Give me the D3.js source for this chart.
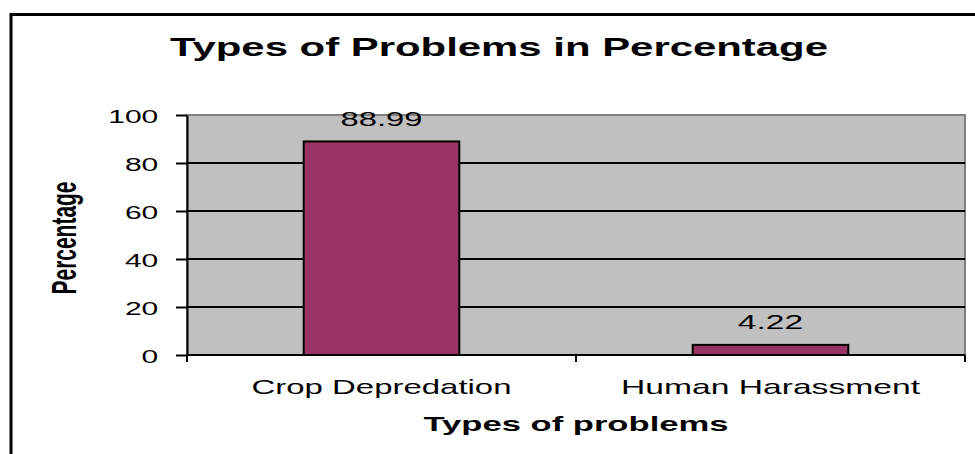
<!DOCTYPE html>
<html>
<head>
<meta charset="utf-8">
<script src="https://cdn.jsdelivr.net/npm/d3@7"></script>
<style>
  html, body { margin: 0; padding: 0; background: #ffffff; }
  svg { display: block; font-family: 'Liberation Sans', Arial, sans-serif; }
</style>
</head>
<body>
<svg id="chart" width="975" height="454"></svg>
<script>
// chart data
const categories = ['Crop Depredation', 'Human Harassment'];
const percentages = [88.99, 4.22];
const valueLabels = ['88.99', '4.22'];
const yTicks = [0, 20, 40, 60, 80, 100];
const chartTitle = 'Types of Problems in Percentage';
const xTitle = 'Types of problems';
const yTitle = 'Percentage';

const width = 975;
const height = 454;
const margin = ({top: 115, right: 10, bottom: 99, left: 187});

// the source image was stretched sideways, so the text is too
const stretch = 1.58;

const barColor = '#993366';
const plotColor = '#c0c0c0';

const svg = d3.select('svg#chart')
  .attr('viewBox', [0, 0, width, height]);

// outer chart border (runs off the right and bottom of the picture)
svg.append('rect')
  .attr('x', 11).attr('y', 14.5)
  .attr('width', width + 20).attr('height', height + 20)
  .attr('fill', 'none')
  .attr('stroke', '#000')
  .attr('stroke-width', 3);

const x = d3.scaleBand()
  .domain(categories)
  .range([margin.left, width - margin.right])
  .padding(0);

const y = d3.scaleLinear()
  .domain([0, 100])
  .range([height - margin.bottom, margin.top]);

// plot area
svg.append('rect')
  .attr('x', x.range()[0])
  .attr('y', y(100))
  .attr('width', x.range()[1] - x.range()[0])
  .attr('height', y(0) - y(100))
  .attr('fill', plotColor)
  .attr('stroke', '#808080')
  .attr('stroke-width', 2);

// gridlines
svg.append('g')
  .selectAll('line')
  .data(yTicks.filter(d => d > 0 && d < 100))
  .join('line')
  .attr('x1', x.range()[0])
  .attr('x2', x.range()[1])
  .attr('y1', d => y(d))
  .attr('y2', d => y(d))
  .attr('stroke', '#000')
  .attr('stroke-width', 2);

// bars (Excel gap width 150%)
const barW = x.bandwidth() / 2.5;
svg.append('g')
  .selectAll('rect')
  .data(percentages)
  .join('rect')
  .attr('x', (d, i) => x(categories[i]) + (x.bandwidth() - barW) / 2)
  .attr('y', d => y(d))
  .attr('width', barW)
  .attr('height', d => y(0) - y(d))
  .attr('fill', barColor)
  .attr('stroke', '#000')
  .attr('stroke-width', 2);

// value labels
svg.append('g')
  .selectAll('text')
  .data(percentages)
  .join('text')
  .attr('x', (d, i) => x(categories[i]) + x.bandwidth() / 2)
  .attr('y', d => y(d) - 15.5)
  .attr('text-anchor', 'middle')
  .attr('font-size', 20)
  .attr('textLength', (d, i) => valueLabels[i].length * 16.4)
  .attr('lengthAdjust', 'spacingAndGlyphs')
  .text((d, i) => valueLabels[i]);

// y axis
const yAxis = gy => {
  gy.attr('transform', `translate(${margin.left},0)`)
    .call(d3.axisLeft(y).tickValues(yTicks).tickSize(11).tickSizeOuter(0))
    .call(g => g.select('.domain').attr('stroke', '#000').attr('stroke-width', 2))
    .call(g => g.selectAll('.tick line').attr('stroke', '#000').attr('stroke-width', 2))
    .call(g => g.selectAll('.tick text')
      .attr('font-size', 19)
      .attr('font-family', null)
      .attr('fill', '#000')
      .attr('x', -28.7 / stretch)
      .attr('dy', '0.4em')
      .attr('transform', `scale(${stretch},1)`));
};
svg.append('g').call(yAxis);

// x axis: line at zero, ticks at the category boundaries
const xAxis = gx => {
  gx.attr('transform', `translate(0,${y(0)})`);
  gx.append('line')
    .attr('x1', x.range()[0]).attr('x2', x.range()[1])
    .attr('stroke', '#000').attr('stroke-width', 2);
  gx.selectAll('line.tick')
    .data(d3.range(categories.length + 1))
    .join('line')
    .attr('class', 'tick')
    .attr('x1', i => x.range()[0] + i * x.step())
    .attr('x2', i => x.range()[0] + i * x.step())
    .attr('y1', 0).attr('y2', 7)
    .attr('stroke', '#000').attr('stroke-width', 2);
  gx.selectAll('text')
    .data(categories)
    .join('text')
    .attr('x', d => x(d) + x.bandwidth() / 2)
    .attr('y', 38.5)
    .attr('text-anchor', 'middle')
    .attr('font-size', 21)
    .attr('textLength', (d, i) => [260, 299][i])
    .attr('lengthAdjust', 'spacingAndGlyphs')
    .text(d => d);
};
svg.append('g').call(xAxis);

// titles
svg.append('text')
  .attr('x', 499)
  .attr('y', 56)
  .attr('text-anchor', 'middle')
  .attr('font-size', 26)
  .attr('font-weight', 'bold')
  .attr('textLength', 658)
  .attr('lengthAdjust', 'spacingAndGlyphs')
  .text(chartTitle);

svg.append('text')
  .attr('x', (x.range()[0] + x.range()[1]) / 2)
  .attr('y', 431)
  .attr('text-anchor', 'middle')
  .attr('font-size', 21)
  .attr('font-weight', 'bold')
  .attr('textLength', 305)
  .attr('lengthAdjust', 'spacingAndGlyphs')
  .text(xTitle);

svg.append('text')
  .attr('transform', `translate(76,${(y(0) + y(100)) / 2 + 3}) scale(1.75,1) rotate(-90)`)
  .attr('text-anchor', 'middle')
  .attr('font-size', 20)
  .attr('font-weight', 'bold')
  .attr('textLength', 113)
  .attr('lengthAdjust', 'spacingAndGlyphs')
  .text(yTitle);
</script>
</body>
</html>
